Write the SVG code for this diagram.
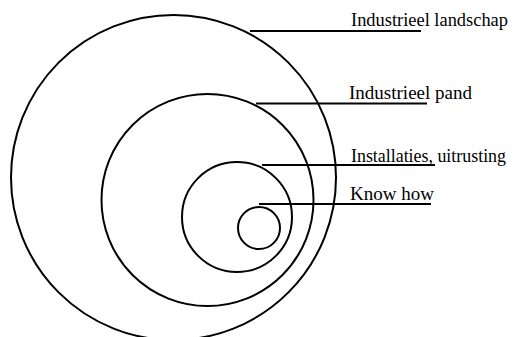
<svg xmlns="http://www.w3.org/2000/svg" width="516" height="337" viewBox="0 0 516 337">
<style>
.c{fill:none;stroke:#000;stroke-width:2}
.l{stroke:#000;stroke-width:2}
.t{font-family:"Liberation Serif","Times New Roman",serif;font-size:18.5px;fill:#000}
</style>
<rect width="516" height="337" fill="#fff"/>
<g id="landschap"><circle class="c" cx="173.5" cy="177.5" r="162.5"/><text class="t" x="351" y="26" textLength="157" lengthAdjust="spacingAndGlyphs">Industrieel landschap</text></g>
<g id="pand"><circle class="c" cx="207.5" cy="200" r="106"/><text class="t" x="349" y="99" textLength="123" lengthAdjust="spacingAndGlyphs">Industrieel pand</text></g>
<g id="installaties"><circle class="c" cx="237" cy="217" r="55"/><text class="t" x="351" y="161.5" textLength="155" lengthAdjust="spacingAndGlyphs">Installaties, uitrusting</text></g>
<g id="knowhow"><circle class="c" cx="259" cy="228" r="21"/><text class="t" x="350" y="200" textLength="84" lengthAdjust="spacingAndGlyphs">Know how</text></g>
<g id="connectors">
<line class="l" x1="250" y1="31" x2="421" y2="31"/>
<line class="l" x1="256" y1="103.5" x2="427" y2="103.5"/>
<line class="l" x1="262" y1="165" x2="435" y2="165"/>
<line class="l" x1="259" y1="204" x2="431" y2="204"/>
</g>
</svg>
